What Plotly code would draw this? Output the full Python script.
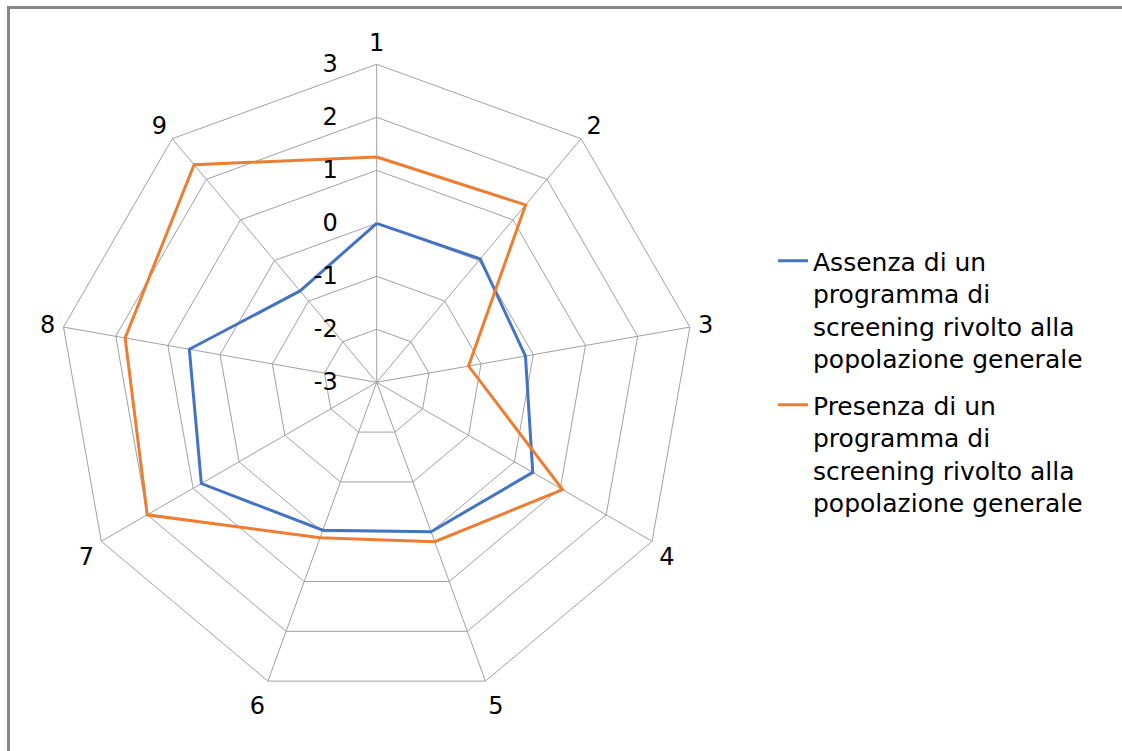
import plotly.graph_objects as go

categories = ["1", "2", "3", "4", "5", "6", "7", "8", "9"]
assenza = [0.0, 0.04, -0.15, 0.4, 0.0, -0.03, 0.82, 0.59, -0.75]
presenza = [1.25, 1.37, -1.24, 1.05, 0.2, 0.12, 2.0, 1.82, 2.36]
radial_ticks = [-3, -2, -1, 0, 1, 2, 3]
radial_ticktext = ["-3", "-2", "-1", "0", "1", "2", "3"]
name_assenza = "Assenza di un<br>programma di<br>screening rivolto alla<br>popolazione generale"
name_presenza = "Presenza di un<br>programma di<br>screening rivolto alla<br>popolazione generale"

FONT = "DejaVu Sans"
GRID = "#a0a0a0"

W, H = 1122, 751
cx, cy, R = 376.7, 382.3, 318.0

fig = go.Figure()
fig.add_trace(go.Scatterpolar(
    r=assenza + assenza[:1], theta=categories + categories[:1],
    mode="lines", name=name_assenza, legendgroup="a",
    line=dict(color="#4472C4", width=3)))
fig.add_trace(go.Scatterpolar(
    r=presenza + presenza[:1], theta=categories + categories[:1],
    mode="lines", name=name_presenza, legendgroup="b",
    line=dict(color="#ED7D31", width=3)))

fig.update_layout(
    width=W, height=H,
    margin=dict(l=0, r=0, t=0, b=0),
    paper_bgcolor="white", plot_bgcolor="white",
    font=dict(family=FONT, size=24, color="black"),
    polar=dict(
        domain=dict(x=[(cx - R) / W, (cx + R) / W],
                    y=[(H - cy - R) / H, (H - cy + R) / H]),
        gridshape="linear",
        bgcolor="white",
        angularaxis=dict(
            direction="clockwise", rotation=90,
            type="category", categoryarray=categories,
            showline=True, linecolor=GRID, linewidth=1,
            showgrid=True, gridcolor=GRID, gridwidth=1,
            ticks="outside", ticklen=3, tickcolor="rgba(0,0,0,0)",
            tickfont=dict(size=24, family=FONT),
        ),
        radialaxis=dict(
            range=[-3, 3], tickvals=radial_ticks, ticktext=radial_ticktext,
            angle=90, side="counterclockwise",
            showline=False, showgrid=True, gridcolor=GRID, gridwidth=1,
            ticks="outside", ticklen=30, tickcolor="rgba(0,0,0,0)",
            tickfont=dict(size=24, family=FONT),
            tickangle=90,
        ),
    ),
    legend=dict(
        x=773 / W, xanchor="left", y=(H - 238) / H, yanchor="top",
        valign="top", traceorder="grouped", tracegroupgap=11,
        font=dict(size=25, family=FONT), bgcolor="rgba(0,0,0,0)",
    ),
    shapes=[
        dict(type="line", xref="paper", yref="paper",
             x0=8.5 / W, x1=8.5 / W, y0=0, y1=(H - 7.5) / H,
             line=dict(color="#878787", width=3)),
        dict(type="line", xref="paper", yref="paper",
             x0=7 / W, x1=1, y0=(H - 7.5) / H, y1=(H - 7.5) / H,
             line=dict(color="#878787", width=3)),
    ],
)

fig.write_html("out.html",
               config={"displayModeBar": False},
               post_script="document.body.style.margin='0';document.body.style.overflow='hidden';")
